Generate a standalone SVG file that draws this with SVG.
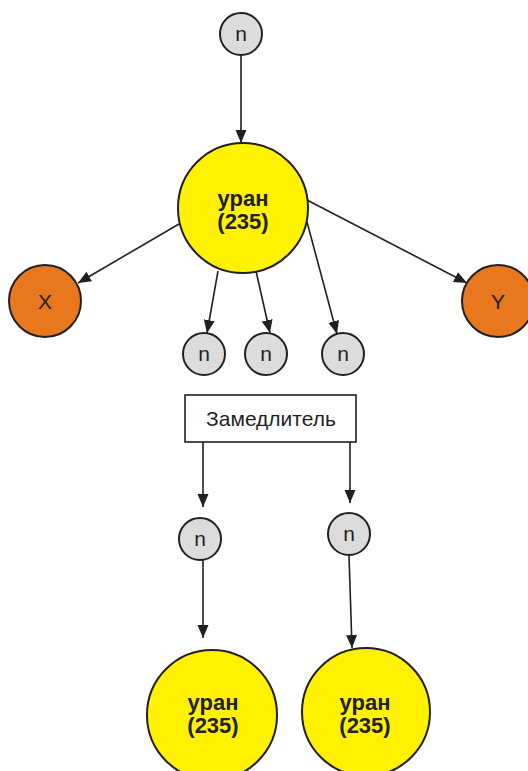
<svg xmlns="http://www.w3.org/2000/svg" width="528" height="771" viewBox="0 0 528 771">
<style>
.n{fill:#dcdcdc;stroke:#231f20;stroke-width:2}
.u{fill:#fff200;stroke:#231f20;stroke-width:2}
.o{fill:#e8771e;stroke:#231f20;stroke-width:2}
.t{font-family:"Liberation Sans",Arial,sans-serif;font-size:21px;fill:#231f20;text-anchor:middle;dominant-baseline:central}
.b{font-family:"Liberation Sans",Arial,sans-serif;font-size:22px;font-weight:bold;fill:#231f20;text-anchor:middle}
.c line{stroke:#231f20;stroke-width:1.6;marker-end:url(#ah)}
</style>
<defs>
<marker id="ah" markerUnits="userSpaceOnUse" markerWidth="14" markerHeight="14" viewBox="0 0 14 14" refX="13" refY="7" orient="auto">
<path d="M0,1.5 L13,7 L0,12.5 Z" fill="#231f20"/>
</marker>
</defs>
<g id="connectors" class="c">
<line x1="241" y1="55" x2="241" y2="143"/>
<line x1="179" y1="224" x2="78" y2="283"/>
<line x1="307" y1="200" x2="467" y2="283"/>
<line x1="218" y1="271" x2="207" y2="333"/>
<line x1="256" y1="271" x2="270" y2="333"/>
<line x1="307" y1="222" x2="337" y2="334"/>
<line x1="203" y1="442" x2="203" y2="507"/>
<line x1="350" y1="442" x2="350" y2="503"/>
<line x1="203" y1="560" x2="203" y2="638"/>
<line x1="349" y1="555" x2="352" y2="648"/>
</g>
<g id="n-top"><circle class="n" cx="241" cy="34" r="21"/><text class="t" x="241" y="33">n</text></g>
<g id="uran-main"><circle class="u" cx="243" cy="208" r="65"/><text class="b" x="243" y="206">уран</text><text class="b" x="243" y="229">(235)</text></g>
<g id="X"><circle class="o" cx="45" cy="301" r="36"/><text class="t" x="45" y="301">X</text></g>
<g id="Y"><circle class="o" cx="498" cy="301" r="36"/><text class="t" x="498" y="301">Y</text></g>
<g id="n1"><circle class="n" cx="204" cy="354" r="21"/><text class="t" x="204" y="353">n</text></g>
<g id="n2"><circle class="n" cx="266" cy="354" r="21"/><text class="t" x="266" y="353">n</text></g>
<g id="n3"><circle class="n" cx="343" cy="354" r="21"/><text class="t" x="343" y="353">n</text></g>
<g id="moderator"><rect x="185" y="395" width="171" height="47" fill="#fff" stroke="#231f20" stroke-width="1.6"/><text class="t" x="271" y="418">Замедлитель</text></g>
<g id="n4"><circle class="n" cx="200" cy="539" r="21"/><text class="t" x="200" y="538">n</text></g>
<g id="n5"><circle class="n" cx="349" cy="534" r="21"/><text class="t" x="349" y="533">n</text></g>
<g id="uran-left"><circle class="u" cx="212" cy="715" r="65"/><text class="b" x="213" y="710">уран</text><text class="b" x="213" y="733">(235)</text></g>
<g id="uran-right"><circle class="u" cx="366" cy="712" r="64"/><text class="b" x="365" y="710">уран</text><text class="b" x="365" y="733">(235)</text></g>
</svg>
